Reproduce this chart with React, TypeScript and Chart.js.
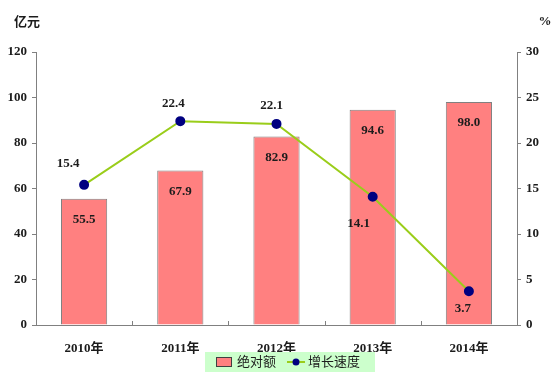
import React, { useEffect, useRef } from "react";
import { Chart, registerables } from "chart.js";

Chart.register(...registerables);

const categories = ["2010年", "2011年", "2012年", "2013年", "2014年"];
const amountValues = [55.5, 67.9, 82.9, 94.6, 98.0];
const growthValues = [15.4, 22.4, 22.1, 14.1, 3.7];
const leftTicks = [0, 20, 40, 60, 80, 100, 120];
const rightTicks = [0, 5, 10, 15, 20, 25, 30];
const seriesNames = ["绝对额", "增长速度"];
const leftUnit = "亿元";
const rightUnit = "%";

const FONT = '"Liberation Serif", "Noto Sans CJK SC", serif';
const TEXT = "#1c1c1c";
const BAR = "#FF8080";
const BAR_BORDER = "#808080";
const LINE = "#9ACD1A";
const POINT = "#000080";
const AXIS = "#808080";

// label offsets for the growth line labels (dx, dy) relative to the point
const growthLabelOffsets = [
  [-16, -21],
  [-7, -18],
  [-5, -18],
  [-14, 27],
  [-6, 17],
];

const overlayPlugin = {
  id: "overlay",
  afterDraw(chart: any) {
    const ctx = chart.ctx;
    const area = chart.chartArea;
    const x = chart.scales.x;
    ctx.save();

    // inner category boundary ticks on x axis
    ctx.strokeStyle = AXIS;
    ctx.lineWidth = 1;
    for (let i = 0; i < categories.length - 1; i++) {
      const px = Math.round((x.getPixelForValue(i) + x.getPixelForValue(i + 1)) / 2) + 0.5;
      ctx.beginPath();
      ctx.moveTo(px, area.bottom);
      ctx.lineTo(px, area.bottom - 4);
      ctx.stroke();
    }

    ctx.fillStyle = TEXT;
    ctx.font = `bold 13px ${FONT}`;
    ctx.textAlign = "center";
    ctx.textBaseline = "middle";

    // bar labels
    const barMeta = chart.getDatasetMeta(0);
    barMeta.data.forEach((el: any, i: number) => {
      ctx.fillText(amountValues[i].toFixed(1), el.x, el.y + 21);
    });

    // line labels
    const lineMeta = chart.getDatasetMeta(1);
    lineMeta.data.forEach((el: any, i: number) => {
      const [dx, dy] = growthLabelOffsets[i];
      ctx.fillText(growthValues[i].toFixed(1), el.x + dx, el.y + dy);
    });

    // unit labels
    ctx.textAlign = "left";
    ctx.fillText(leftUnit, 14, 23);
    ctx.textAlign = "center";
    ctx.fillText(rightUnit, 545, 22);

    // legend
    const lx = 205, ly = 352, lw = 170, lh = 20;
    ctx.fillStyle = "#CCFFCC";
    ctx.fillRect(lx, ly, lw, lh);
    const cy = ly + lh / 2;
    ctx.fillStyle = BAR;
    ctx.fillRect(216, cy - 5, 16, 10);
    ctx.strokeStyle = "#404040";
    ctx.lineWidth = 1;
    ctx.strokeRect(216.5, cy - 4.5, 15, 9);
    ctx.fillStyle = TEXT;
    ctx.textAlign = "left";
    ctx.font = `13px ${FONT}`;
    ctx.fillText(seriesNames[0], 237, cy + 1);
    ctx.strokeStyle = LINE;
    ctx.lineWidth = 2;
    ctx.beginPath();
    ctx.moveTo(287, cy);
    ctx.lineTo(305, cy);
    ctx.stroke();
    ctx.fillStyle = POINT;
    ctx.beginPath();
    ctx.arc(296, cy, 3.5, 0, Math.PI * 2);
    ctx.fill();
    ctx.fillStyle = TEXT;
    ctx.fillText(seriesNames[1], 308, cy + 1);

    ctx.restore();
  },
};

export default function App() {
  const ref = useRef<HTMLCanvasElement | null>(null);

  useEffect(() => {
    if (!ref.current) return;
    const tickFont = { family: FONT, size: 13, weight: "bold" as const };
    const chart = new Chart(ref.current, {
      type: "bar",
      data: {
        labels: categories,
        datasets: [
          {
            type: "bar",
            label: seriesNames[0],
            data: amountValues,
            backgroundColor: BAR,
            borderColor: BAR_BORDER,
            borderWidth: 1,
            barPercentage: 0.96,
            categoryPercentage: 0.5,
            yAxisID: "y",
            order: 2,
          },
          {
            type: "line",
            label: seriesNames[1],
            data: growthValues,
            borderColor: LINE,
            borderWidth: 2,
            pointBackgroundColor: POINT,
            pointBorderColor: POINT,
            pointRadius: 4,
            tension: 0,
            yAxisID: "y1",
            order: 1,
          } as any,
        ],
      },
      options: {
        responsive: false,
        animation: false,
        layout: { padding: { top: 52, left: 0, right: 0, bottom: 0 } },
        plugins: { legend: { display: false }, tooltip: { enabled: false } },
        scales: {
          x: {
            grid: { display: false },
            border: { display: true, color: AXIS, width: 1 },
            ticks: { font: tickFont, color: TEXT, padding: 8, maxRotation: 0 },
            afterFit: (s: any) => {
              s.height = 50;
            },
          },
          y: {
            position: "left",
            min: 0,
            max: 120,
            afterBuildTicks: (s: any) => {
              s.ticks = leftTicks.map((v) => ({ value: v }));
            },
            grid: { drawOnChartArea: false, drawTicks: true, tickLength: 4, color: AXIS },
            border: { display: true, color: AXIS, width: 1 },
            ticks: { font: tickFont, color: TEXT, padding: 5 },
            afterFit: (s: any) => {
              s.width = 36;
            },
          },
          y1: {
            position: "right",
            min: 0,
            max: 30,
            afterBuildTicks: (s: any) => {
              s.ticks = rightTicks.map((v) => ({ value: v }));
            },
            grid: { drawOnChartArea: false, drawTicks: true, tickLength: 4, color: AXIS },
            border: { display: true, color: AXIS, width: 1 },
            ticks: { font: tickFont, color: TEXT, padding: 5 },
            afterFit: (s: any) => {
              s.width = 37;
            },
          },
        },
      },
      plugins: [overlayPlugin],
    });
    return () => chart.destroy();
  }, []);

  return (
    <div style={{ position: "absolute", left: 0, top: 0, width: 554, height: 375, background: "#fff" }}>
      <canvas ref={ref} width={554} height={375} style={{ display: "block" }} />
    </div>
  );
}
